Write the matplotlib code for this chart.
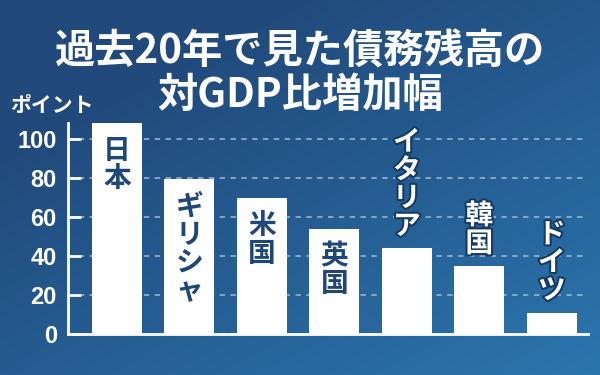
"""Bar chart: increase in debt-to-GDP ratio over 20 years."""

import numpy as np
import matplotlib
matplotlib.use("Agg")
import matplotlib.pyplot as plt
import matplotlib.patheffects as pe

plt.rcParams['font.family'] = ['Noto Sans CJK JP', 'DejaVu Sans']

# data
countries = ['日本', 'ギリシャ', '米国', '英国', 'イタリア', '韓国', 'ドイツ']
values = [108, 79.5, 69.5, 54, 44, 35, 11]
label_inside = [True, True, True, True, False, False, False]
yticks = [0, 20, 40, 60, 80, 100]

title_lines = ['過去20年で見た債務残高の', '対GDP比増加幅']
unit_label = 'ポイント'

navy = '#1e4677'

fig = plt.figure(figsize=(6, 3.75), dpi=100)

# Gradient background (dark navy top-left -> lighter blue bottom-right)
bg = fig.add_axes([0, 0, 1, 1], zorder=0)
xx, yy = np.meshgrid(np.linspace(0, 1, 300), np.linspace(0, 1, 200))
t = np.clip(0.55 * xx + 0.65 * yy - 0.25, 0, 1)
c0 = np.array([0x21, 0x49, 0x7b]) / 255
c1 = np.array([0x2b, 0x78, 0xb0]) / 255
img = c0[None, None, :] * (1 - t[..., None]) + c1[None, None, :] * t[..., None]
bg.imshow(img, aspect='auto', extent=[0, 1, 0, 1])
bg.axis('off')

ax = fig.add_axes([0.1133, 0.1093, 0.8667, 0.5617], zorder=1)
ax.patch.set_alpha(0)

x = np.arange(len(countries))
ax.bar(x, values, width=0.69, color='white', zorder=3)

ax.set_xlim(-0.676, 6.5)
ax.set_ylim(0, 108)
ax.set_yticks(yticks)
ax.set_yticklabels([str(v) for v in yticks], color='white',
                   fontsize=17, fontweight='bold', family='Liberation Sans')
ax.set_xticks([])

for v in yticks[1:]:
    ax.axhline(v, color='#a3b8d0', lw=1.3, ls=(0, (3, 3)), alpha=0.85, zorder=1)

ax.tick_params(axis='y', direction='in', length=9, width=2, color='white', pad=8)
for s in ['top', 'right']:
    ax.spines[s].set_visible(False)
for s in ['left', 'bottom']:
    ax.spines[s].set_color('white')
    ax.spines[s].set_linewidth(2)

# vertical country labels
for xi, name, v, inside in zip(x, countries, values, label_inside):
    txt = '\n'.join(name)
    if inside:
        ax.text(xi, v - 7, txt, ha='center', va='top', color=navy,
                fontsize=20, fontweight='bold', linespacing=1.0, zorder=4)
    else:
        ax.text(xi, v + 4, txt, ha='center', va='bottom', color='white',
                fontsize=20, fontweight='bold', linespacing=1.0, zorder=4,
                path_effects=[pe.withStroke(linewidth=3, foreground='#163a63')])

# two-line title
fig.text(0.5, 0.862, title_lines[0], ha='center', va='center', color='white',
         fontsize=29, fontweight='bold')
fig.text(0.5, 0.745, title_lines[1], ha='center', va='center', color='white',
         fontsize=29, fontweight='bold')
fig.text(0.017, 0.72, unit_label, ha='left', va='center', color='white',
         fontsize=15, fontweight='bold')

fig.savefig('out.png', dpi=100)
